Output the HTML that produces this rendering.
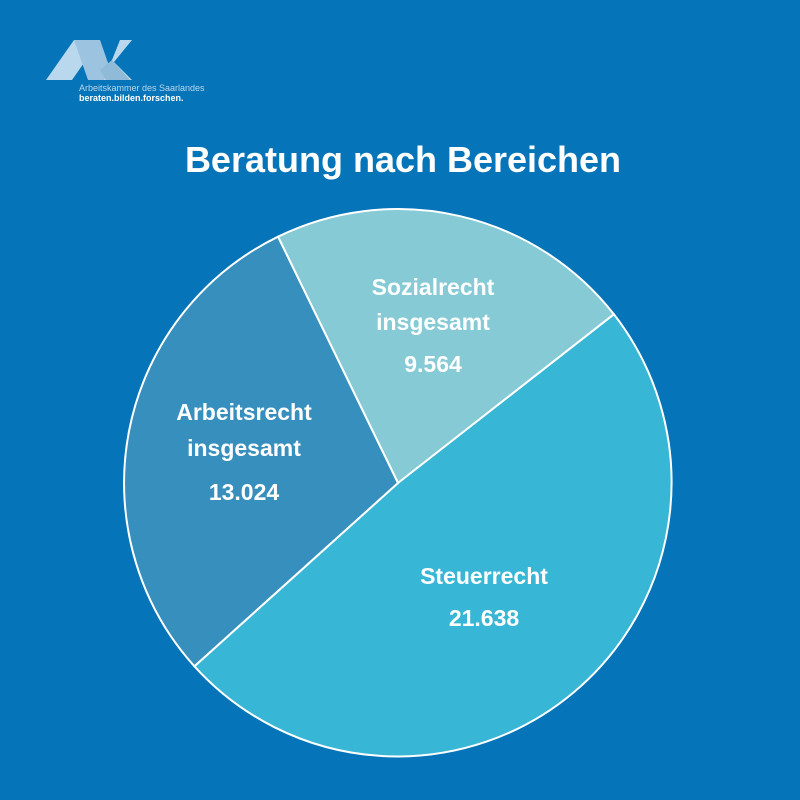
<!DOCTYPE html>
<html><head><meta charset="utf-8"><style>
html,body{margin:0;padding:0;background:#0574b8;}
svg{display:block}
text{font-family:"Liberation Sans",sans-serif;}
</style></head><body>
<svg width="800" height="800" viewBox="0 0 800 800">
<rect width="800" height="800" fill="#0574b8"/>
<!-- logo -->
<polygon points="46,80 74,40 100,40 72,80" fill="#b9d8ee"/>
<polygon points="74,40 100,40 114,80 88,80" fill="#9cc4e0"/>
<polygon points="104,80 120,40 132,40 114,62 132,80" fill="#b9d8ee"/>
<polygon points="100,70 112,60 130,80 106,80" fill="#8fbbd9"/>
<text x="79" y="91" font-size="9" fill="#b9d8ee">Arbeitskammer des Saarlandes</text>
<text x="79" y="101" font-size="9" font-weight="bold" fill="#ffffff">beraten.bilden.forschen.</text>
<text x="403" y="172" font-size="36" font-weight="bold" fill="#fff" text-anchor="middle">Beratung nach Bereichen</text>
<!-- pie: center 398,483 r 274 -->
<circle cx="398" cy="483" r="274" fill="#38b6d5"/>
<path d="M398,483 L278,236.7 A274,274 0 0 1 613.9,314.3 Z" fill="#85cad5" stroke="#fff" stroke-width="2"/>
<path d="M398,483 L613.9,314.3 A274,274 0 0 1 194.4,666.3 Z" fill="#38b6d5" stroke="#fff" stroke-width="2"/>
<path d="M398,483 L194.4,666.3 A274,274 0 0 1 278,236.7 Z" fill="#378fbe" stroke="#fff" stroke-width="2"/>
<g font-size="23" font-weight="bold" fill="#fff" text-anchor="middle">
<text x="433" y="295">Sozialrecht</text>
<text x="433" y="330">insgesamt</text>
<text x="433" y="372">9.564</text>
<text x="244" y="420">Arbeitsrecht</text>
<text x="244" y="456">insgesamt</text>
<text x="244" y="500">13.024</text>
<text x="484" y="584">Steuerrecht</text>
<text x="484" y="626">21.638</text>
</g>
</svg>
</body></html>
